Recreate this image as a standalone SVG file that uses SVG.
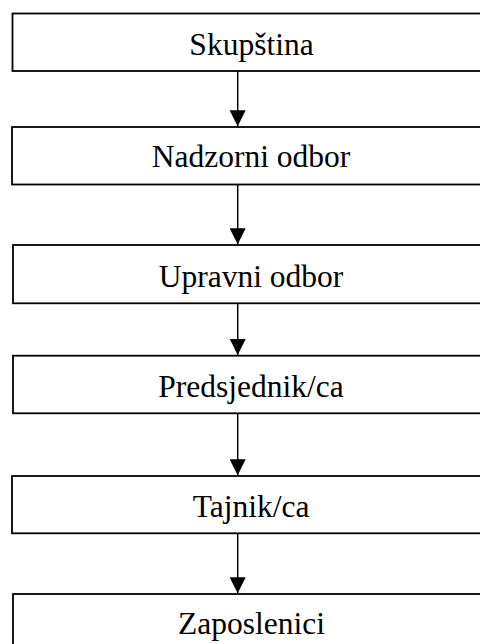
<svg xmlns="http://www.w3.org/2000/svg" width="480" height="644" viewBox="0 0 480 644">
<style>
.box{fill:#fff;stroke:#000;stroke-width:1.8}
.lbl{font-family:"Liberation Serif","Times New Roman",serif;font-size:31.5px;fill:#000;text-anchor:middle}
.conn{stroke:#000;stroke-width:1.5;fill:none}
</style>
<defs>
<marker id="ah" viewBox="0 0 16 16" refX="16" refY="8" markerWidth="16" markerHeight="16" markerUnits="userSpaceOnUse" orient="auto">
<path d="M0,0 L16,8 L0,16 Z" fill="#000"/>
</marker>
</defs>
<rect width="480" height="644" fill="#fff"/>
<g id="connectors">
<line class="conn" x1="237.7" y1="71" x2="237.7" y2="126.3" marker-end="url(#ah)"/>
<line class="conn" x1="237.7" y1="184.5" x2="237.7" y2="244.3" marker-end="url(#ah)"/>
<line class="conn" x1="237.7" y1="303.3" x2="237.7" y2="355" marker-end="url(#ah)"/>
<line class="conn" x1="237.7" y1="413.3" x2="237.7" y2="475.3" marker-end="url(#ah)"/>
<line class="conn" x1="237.7" y1="533.3" x2="237.7" y2="593.3" marker-end="url(#ah)"/>
</g>
<g id="n1"><rect class="box" x="12.5" y="13.5" width="478" height="57.5"/><text class="lbl" x="251.5" y="55">Skupština</text></g>
<g id="n2"><rect class="box" x="12" y="127" width="478" height="57.5"/><text class="lbl" x="251" y="166.7">Nadzorni odbor</text></g>
<g id="n3"><rect class="box" x="13" y="245" width="478" height="58.3"/><text class="lbl" x="251" y="286.5">Upravni odbor</text></g>
<g id="n4"><rect class="box" x="13" y="355.7" width="478" height="57.6"/><text class="lbl" x="251" y="396.7">Predsjednik/ca</text></g>
<g id="n5"><rect class="box" x="12" y="476" width="478" height="57.3"/><text class="lbl" x="251" y="516.7">Tajnik/ca</text></g>
<g id="n6"><rect class="box" x="13" y="594" width="478" height="58"/><text class="lbl" x="251.5" y="634">Zaposlenici</text></g>
</svg>
